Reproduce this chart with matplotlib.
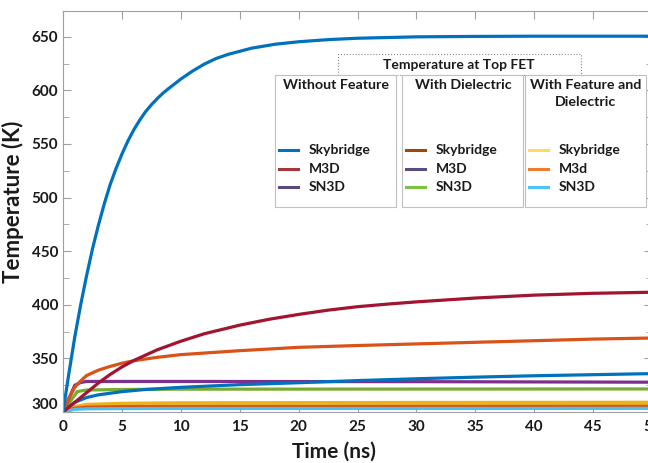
import matplotlib.pyplot as plt
from matplotlib.patches import Rectangle
from matplotlib.lines import Line2D

plt.rcParams['font.family'] = ['Lato', 'DejaVu Sans']

#%% data (time in ns, temperature in K)
t_sky = [0, 0.5, 1, 1.5, 2, 2.5, 3, 3.5, 4, 4.5, 5, 5.5, 6, 6.5, 7, 7.5, 8, 8.5, 9, 10, 11, 12,
         13, 14, 16, 18, 20, 22.5, 25, 30, 35, 40, 50]
T_sky = [300, 336, 370, 400, 427, 452, 474, 494, 512, 527, 540.5, 552.5, 563, 572, 580, 586.5,
         592.3, 597.5, 602, 610.5, 618, 624.5, 629.7, 633.5, 639.3, 643, 645.3, 647.3, 648.6,
         649.9, 650.3, 650.5, 650.5]

t_m3d = [0, 1, 2, 3, 4, 5, 6, 8, 10, 12, 15, 17.5, 20, 22.5, 25, 27.5, 30, 35, 40, 45, 50]
T_m3d = [300, 309, 318, 327, 335, 342, 348, 358, 366, 373, 381, 386.5, 391, 395, 398.2, 400.6,
         402.7, 406.3, 409, 410.7, 411.7]

t_sn3d = [0, 1, 1.5, 2, 10, 30, 50]
T_sn3d = [300, 325, 327.5, 328.5, 328.5, 328.3, 327.8]

t_sky2 = [0, 0.5, 1, 2, 3, 5, 7, 10, 15, 20, 25, 30, 35, 40, 45, 50]
T_sky2 = [300, 305, 309, 313.5, 316, 319, 321, 323, 325.5, 327.3, 329.3, 331, 332.5,
          333.8, 334.8, 335.8]

t_sn3d_d = [0, 1.2, 2, 5, 10, 50]
T_sn3d_d = [300, 319, 320.5, 321, 321.3, 321.5]

t_m3d_fd = [0, 0.5, 1, 1.5, 2, 3, 4, 5, 6, 8, 10, 15, 20, 25, 30, 35, 40, 45, 50]
T_m3d_fd = [300, 313, 323, 329, 334, 339, 342.5, 345.5, 347.8, 351, 353.5, 357.2, 360.3,
            362, 363.5, 365, 366.5, 368, 369]

t_low = [0, 1, 2, 5, 10, 30, 50]
T_sky_fd = [300, 304.5, 306.5, 307.5, 308, 308.3, 308.5]
T_sky_d = [300, 303.5, 304.5, 305, 305, 305.1, 305.2]
T_sn3d_fd = [300, 302.5, 303, 303.2, 303.3, 303.3, 303.4]

xticks = [0, 5, 10, 15, 20, 25, 30, 35, 40, 45, 50]
yticks = [300, 350, 400, 450, 500, 550, 600, 650]

groups = ['Without Feature', 'With Dielectric', 'With Feature and\nDielectric']
names = [['Skybridge', 'M3D', 'SN3D'],
         ['Skybridge', 'M3D', 'SN3D'],
         ['Skybridge', 'M3d', 'SN3D']]
legend_colors = [['#0072BD', '#A4373A', '#5B4A7E'],
                 ['#9E480E', '#5B4A7E', '#7DC242'],
                 ['#FFD966', '#ED7D31', '#4FC3F7']]

#%% plot
W, H = 648, 463
fig = plt.figure(figsize=(W / 100, H / 100), dpi=100)
ax = fig.add_axes([63 / W, 51 / H, 589 / W, 401 / H])

lw = 2.3
ax.plot(t_low, T_sky_fd, color='#EDB120', lw=3.2)
ax.plot(t_low, T_sky_d, color='#D95319', lw=lw)
ax.plot(t_low, T_sn3d_fd, color='#4DBEEE', lw=lw)
ax.plot(t_sn3d_d, T_sn3d_d, color='#77AC30', lw=lw)
ax.plot(t_sn3d, T_sn3d, color='#7E2F8E', lw=lw)
ax.plot(t_sky2, T_sky2, color='#0072BD', lw=lw)
ax.plot(t_m3d_fd, T_m3d_fd, color='#D95319', lw=lw)
ax.plot(t_m3d, T_m3d, color='#A2142F', lw=lw)
ax.plot(t_sky, T_sky, color='#0072BD', lw=lw)

ax.set_xlim(0, 50)
ax.set_ylim(300, 674)
ax.set_xticks(xticks)
ax.set_yticks(yticks)
ax.set_yticks(range(325, 675, 50), minor=True)
for s in ax.spines.values():
    s.set_color('#a0a0a0')
ax.tick_params(which='both', direction='in', color='#a0a0a0', top=True, right=True,
               labelsize=11, labelcolor='#1a1a1a')
ax.tick_params(which='major', length=6)
ax.tick_params(which='minor', length=4)
ax.tick_params(axis='x', pad=6)
for lab in ax.get_xticklabels() + ax.get_yticklabels():
    lab.set_fontweight('bold')
ax.get_yticklabels()[0].set_va('bottom')

ax.set_xlabel('Time (ns)', fontsize=15, fontweight='bold', color='#1a1a1a')
ax.set_ylabel('Temperature (K)', fontsize=16, fontweight='bold', color='#1a1a1a')
ax.xaxis.set_label_coords(0.46, -0.075)
ax.yaxis.set_label_coords(-0.066, 0.525)

#%% hand drawn legend boxes (pixel coordinates of the reference)
def fx(x):
    return x / W

def fy(y):
    return 1 - y / H

fig.add_artist(Rectangle((fx(338), fy(75)), (581 - 338) / W, 21 / H, transform=fig.transFigure,
                         facecolor='white', edgecolor='#888888', lw=0.8, ls=':'))
fig.text(fx(459), fy(65), 'Temperature at Top FET', ha='center', va='center',
         fontsize=10, fontweight='bold', color='#1a1a1a')

box_left = [275, 402, 525]
for i in range(3):
    x0 = box_left[i]
    fig.add_artist(Rectangle((fx(x0), fy(207)), 121 / W, 132 / H, transform=fig.transFigure,
                             facecolor='white', edgecolor='#c0c0c0', lw=0.8))
    fig.text(fx(x0 + 61), fy(79), groups[i], ha='center', va='top', fontsize=10.3,
             fontweight='bold', color='#1a1a1a', linespacing=1.5)
    for j, yy in enumerate([150, 169, 187]):
        fig.add_artist(Line2D([fx(x0 + 4), fx(x0 + 23)], [fy(yy), fy(yy)],
                              transform=fig.transFigure, color=legend_colors[i][j], lw=2.2))
        fig.text(fx(x0 + 34), fy(yy), names[i][j], ha='left', va='center', fontsize=10,
                 fontweight='bold', color='#1a1a1a')

fig.savefig('out.png', dpi=100)
